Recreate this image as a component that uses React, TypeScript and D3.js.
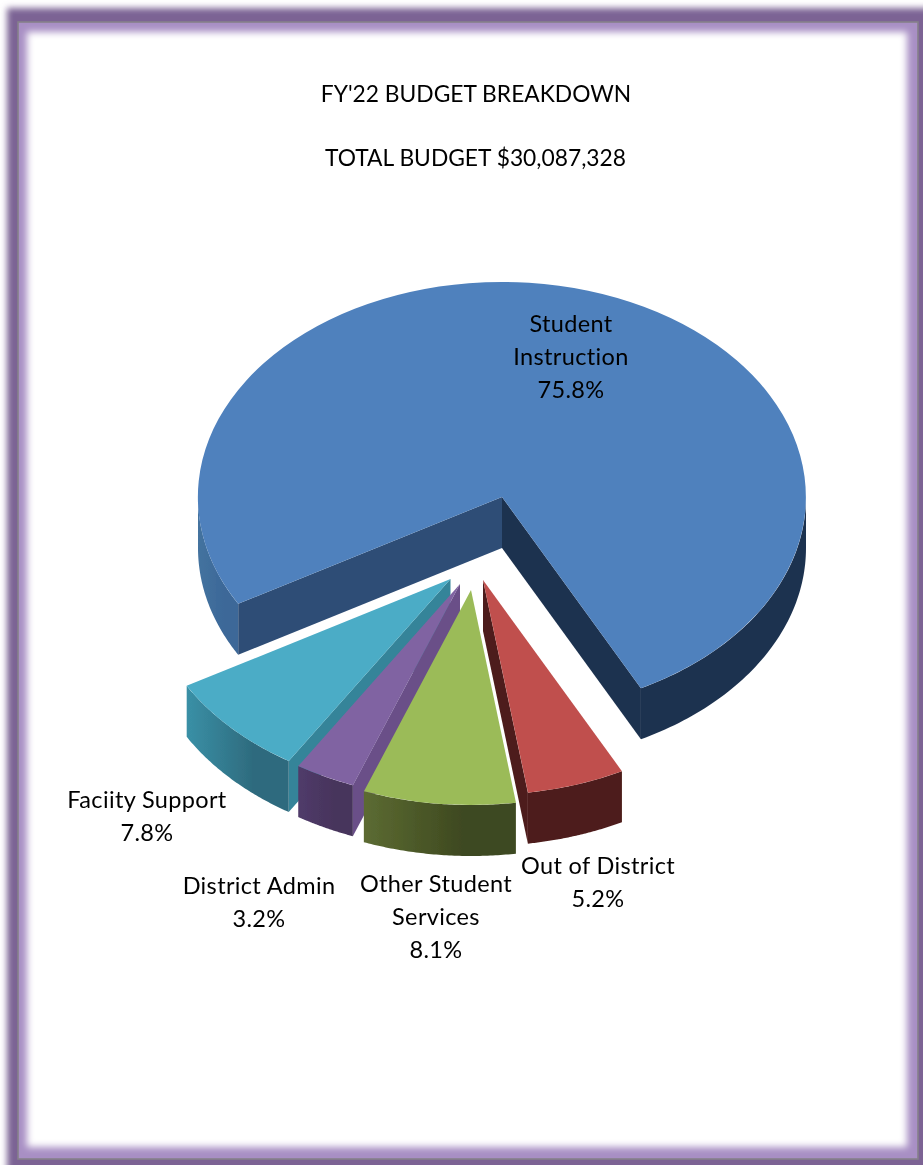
import React from "react";
import * as d3 from "d3";

const categories = ["Student Instruction", "Out of District", "Other Student Services", "District Admin", "Faciity Support"];
const shares = [75.8, 5.2, 8.1, 3.2, 7.8];
const titleLines = ["FY'22 BUDGET BREAKDOWN", "TOTAL BUDGET $30,087,328"];

// layout and style (not data)
const W = 923, H = 1165;
const RX = 304, RY = 215, DEPTH = 51;
const FIRST_ANGLE = (240.2 * Math.PI) / 180;
const apexX = [502, 483, 471, 460, 450.5];
const apexY = [497, 580, 590, 584, 579];
const topFill = ["#4f81bd", "#c0504d", "#9bbb59", "#8064a2", "#4bacc6"];
const lowEdgeFill = ["#2f4e76", "#4d1c1a", "#5b6d33", "#6a5088", "#348499"];
const highEdgeFill = ["#1f3350", "#4d1c1a", "#5b6d33", "#4f3a66", "#348499"];
const outerFrom = [["#44739f", "#3c6898"], ["#4d1c1a", "#4d1c1a"], ["#5c6b32", "#3e4920"], ["#503b6a", "#47345c"], ["#3a90a6", "#2e6b7e"]];
const drawOrder = [0, 4, 3, 2, 1];
const labelLines = [["Student", "Instruction", "75.8%"], ["Out of District", "5.2%"], ["Other Student", "Services", "8.1%"], ["District Admin", "3.2%"], ["Faciity Support", "7.8%"]];
const labelX = [571, 598, 436, 259, 147];
const labelY = [332, 874, 892, 894, 808];

const pie = d3.pie<number>().sort(null).startAngle(FIRST_ANGLE).endAngle(FIRST_ANGLE + 2 * Math.PI);
const unitArc = d3.arc<d3.PieArcDatum<number>>().innerRadius(0).outerRadius(1);
const px = (a: number) => RX * Math.sin(a);
const py = (a: number) => -RY * Math.cos(a);
const line = d3.line<[number, number]>();
const FONT = "Lato, Carlito, Calibri, sans-serif";

function wallPath(x: number, y: number, a0: number, a1: number) {
  const n = 60;
  const as = d3.range(n + 1).map((i) => a0 + ((a1 - a0) * i) / n);
  const top = as.map((a) => [x + px(a), y + py(a)] as [number, number]);
  const bot = as.slice().reverse().map((a) => [x + px(a), y + py(a) + DEPTH] as [number, number]);
  return line([...top, ...bot]) + "Z";
}
function edgePath(x: number, y: number, a: number) {
  return line([[x, y], [x + px(a), y + py(a)], [x + px(a), y + py(a) + DEPTH], [x, y + DEPTH]]) + "Z";
}
function frontRanges(a0: number, a1: number): [number, number][] {
  const out: [number, number][] = [];
  for (const k of [0, 1]) {
    const lo = Math.max(a0, Math.PI / 2 + k * 2 * Math.PI);
    const hi = Math.min(a1, (3 * Math.PI) / 2 + k * 2 * Math.PI);
    if (hi > lo) out.push([lo, hi]);
  }
  return out;
}

export default function App() {
  const arcs = pie(shares);
  return (
    <svg width={W} height={H} viewBox={`0 0 ${W} ${H}`} style={{ position: "absolute", left: 0, top: 0, background: "#fff" }}>
      <defs>
        <filter id="blurOuter" x="-5%" y="-5%" width="110%" height="110%"><feGaussianBlur stdDeviation="3" /></filter>
        <filter id="blurInner" x="-5%" y="-5%" width="110%" height="110%"><feGaussianBlur stdDeviation="3.5" /></filter>
        <filter id="soft" x="-5%" y="-5%" width="110%" height="110%"><feGaussianBlur stdDeviation="0.5" /></filter>
        <filter id="softText" x="-5%" y="-5%" width="110%" height="110%"><feGaussianBlur stdDeviation="0.35" /></filter>
      </defs>
      <rect x={7} y={8} width={W + 20} height={H + 20} fill="#7b6494" filter="url(#blurOuter)" />
      <rect x={18} y={22} width={900} height={1137} fill="#a88fc4" stroke="#85808a" strokeWidth={1.6} />
      <rect x={27} y={32} width={880} height={1115} fill="#fff" filter="url(#blurInner)" />

      <g filter="url(#soft)">
        {drawOrder.map((i) => {
          const d = arcs[i];
          const x = apexX[i], y = apexY[i];
          const ranges = frontRanges(d.startAngle, d.endAngle);
          return (
            <g key={categories[i]}>
              {Math.sin(d.startAngle) < 0 && <path d={edgePath(x, y, d.startAngle)} fill={lowEdgeFill[i]} />}
              {Math.sin(d.endAngle) > 0 && <path d={edgePath(x, y, d.endAngle)} fill={highEdgeFill[i]} />}
              {ranges.map(([lo, hi], k) => {
                const id = `wall${i}${k}`;
                const shaded = i === 0 && lo > 2 * Math.PI;
                const xs = d3.range(41).map((t) => x + px(lo + ((hi - lo) * t) / 40));
                const [xa, xb] = d3.extent(xs) as [number, number];
                return (
                  <g key={k}>
                    <linearGradient id={id} gradientUnits="userSpaceOnUse" x1={xa} x2={xb} y1={0} y2={0}>
                      <stop offset="0" stopColor={shaded ? highEdgeFill[i] : outerFrom[i][0]} />
                      <stop offset="0.65" stopColor={shaded ? highEdgeFill[i] : outerFrom[i][1]} />
                      <stop offset="1" stopColor={shaded ? highEdgeFill[i] : outerFrom[i][1]} />
                    </linearGradient>
                    <path d={wallPath(x, y, lo, hi)} fill={`url(#${id})`} />
                  </g>
                );
              })}
              <path
                d={unitArc(d) as string}
                transform={`translate(${x},${y}) scale(${RX},${RY})`}
                fill={topFill[i]}
              />
            </g>
          );
        })}
      </g>

      <g fontFamily={FONT} fill="#000" textAnchor="middle" filter="url(#softText)">
        {titleLines.map((t, i) => (
          <text key={t} x={476 - i * 0.5} y={102 + i * 64} fontSize={22.8}>{t}</text>
        ))}
        {labelLines.map((lines, i) =>
          lines.map((t, j) => (
            <text key={t} x={labelX[i]} y={labelY[i] + j * 33} fontSize={23.5} letterSpacing={0.35}>{t}</text>
          ))
        )}
      </g>
    </svg>
  );
}
